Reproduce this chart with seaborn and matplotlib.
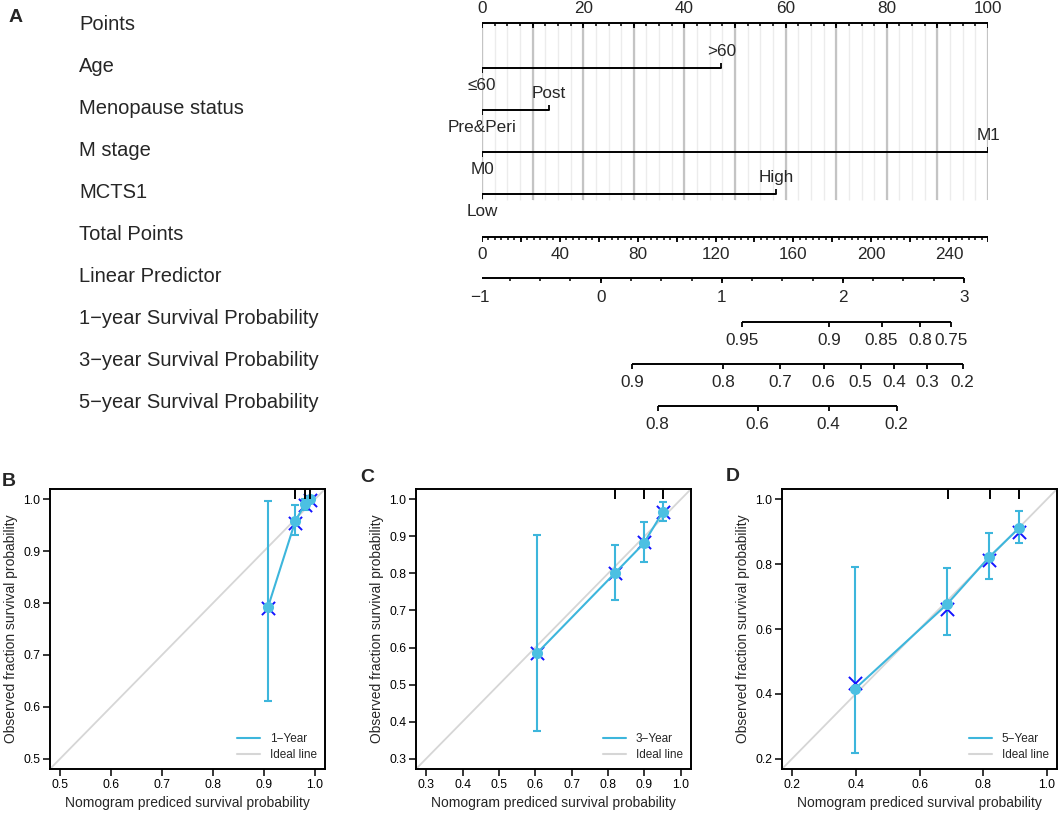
import numpy as np
import pandas as pd
import matplotlib
matplotlib.use("Agg")
import matplotlib.pyplot as plt
from matplotlib.lines import Line2D
from matplotlib.transforms import blended_transform_factory
import seaborn as sns

# ==============================
# DATI NOMOGRAMMA
# ==============================
row_names = ["Points", "Age", "Menopause status", "M stage", "MCTS1",
             "Total Points", "Linear Predictor",
             "1\u2212year Survival Probability",
             "3\u2212year Survival Probability",
             "5\u2212year Survival Probability"]

var_levels = [["\u226460", ">60"], ["Pre&Peri", "Post"], ["M0", "M1"], ["Low", "High"]]
var_points = [[0, 47.3], [0, 13.2], [0, 100], [0, 58.2]]

points_labels = [0, 20, 40, 60, 80, 100]
total_labels = [0, 40, 80, 120, 160, 200, 240]
total_max = 260
lp_labels = [-1, 0, 1, 2, 3]
lp_zero_points = 23.46     # posizione (in points) di LP = 0
points_per_lp = 23.93

haz1, haz3, haz5 = 0.01598, 0.0811, 0.1396   # rischio cumulativo di base
surv1_ticks = [0.95, 0.9, 0.85, 0.8, 0.75]
surv3_ticks = [0.9, 0.8, 0.7, 0.6, 0.5, 0.4, 0.3, 0.2]
surv5_ticks = [0.8, 0.6, 0.4, 0.2]

# ==============================
# DATI CALIBRAZIONE
# ==============================
pred1 = [0.908, 0.962, 0.981, 0.990]
obs1 = [0.792, 0.959, 0.991, 1.000]
lo1 = [0.612, 0.932, 0.980, 0.998]
hi1 = [0.997, 0.990, 1.000, 1.000]
corr1 = [0.790, 0.955, 0.990, 0.998]
rug1 = [0.962, 0.980, 0.990]

pred3 = [0.604, 0.818, 0.898, 0.951]
obs3 = [0.584, 0.800, 0.881, 0.967]
lo3 = [0.375, 0.728, 0.830, 0.941]
hi3 = [0.905, 0.878, 0.938, 0.993]
corr3 = [0.585, 0.800, 0.885, 0.965]
rug3 = [0.818, 0.898, 0.951]

pred5 = [0.397, 0.686, 0.818, 0.914]
obs5 = [0.415, 0.676, 0.821, 0.913]
lo5 = [0.217, 0.582, 0.753, 0.865]
hi5 = [0.792, 0.789, 0.897, 0.964]
corr5 = [0.434, 0.663, 0.813, 0.900]
rug5 = [0.691, 0.821, 0.914]

CYAN = "#3db6dc"
CYAN_PT = "#4cc0e2"
BLUE = "#1414ff"
GREY = "#d6d6d6"

W, H = 1059, 815


def rect(x0, y0, x1, y1):
    return [x0 / W, 1 - y1 / H, (x1 - x0) / W, (y1 - y0) / H]


sns.set_theme(style="ticks")
plt.rcParams['font.family'] = ['Liberation Sans', 'DejaVu Sans']

fig = plt.figure(figsize=(W / 100, H / 100), dpi=100)

# ==============================
# A. NOMOGRAMMA
# ==============================
ax = fig.add_axes(rect(482, 0, 988, 440))
ax.set_xlim(0, 100)
ax.set_ylim((440 - 25) / 42, -25 / 42)
ax.axis("off")

lab_tr = blended_transform_factory(fig.transFigure, ax.transData)
for i, name in enumerate(row_names):
    ax.text(79 / W, i, name, transform=lab_tr, ha="left", va="center", fontsize=14.5)

TICK_FS = 12.3
LONG, SHORT = 0.12, 0.07


def tp_to_points(tp):
    return np.asarray(tp, dtype=float) * 100 / total_max


def lp_to_points(lp):
    return lp_zero_points + points_per_lp * np.asarray(lp, dtype=float)


def surv_to_points(s, h):
    s = np.asarray(s, dtype=float)
    return lp_to_points(np.log(-np.log(s)) - np.log(h))


def scale(y, major_x, labels, minor_x=(), label_dy=0.46):
    xs = np.concatenate([np.asarray(major_x, float), np.asarray(minor_x, float)])
    ax.plot([xs.min(), xs.max()], [y, y], color="black", lw=1.4, solid_capstyle="butt")
    ax.vlines(major_x, y, y + LONG, color="black", lw=1.3)
    if len(minor_x):
        ax.vlines(minor_x, y, y + SHORT, color="black", lw=1.1)
    for x, t in zip(major_x, labels):
        ax.text(x, y + label_dy, t, ha="center", va="center", fontsize=TICK_FS)


# griglia verticale
grid_minor = np.arange(0, 100.1, 2.5)
grid_major = np.arange(0, 100.1, 10)
ax.vlines(grid_minor, -0.04, 4.17, color="#ececec", lw=1.0, zorder=0)
ax.vlines(grid_major, -0.04, 4.17, color="#c4c4c4", lw=1.6, zorder=0)

# Points
py = -0.04
ax.plot([0, 100], [py, py], color="black", lw=1.4)
ax.vlines(grid_minor, py, py + SHORT, color="black", lw=1.1)
ax.vlines(grid_major, py, py + LONG, color="black", lw=1.3)
for v in points_labels:
    ax.text(v, -0.4, str(v), ha="center", va="center", fontsize=TICK_FS)

# variabili categoriche
for i, (levels, pts) in enumerate(zip(var_levels, var_points)):
    y = i + 1 + 0.03
    ax.plot([pts[0], pts[1]], [y, y], color="black", lw=1.4)
    ax.vlines(pts[0], y, y + LONG, color="black", lw=1.3)
    ax.vlines(pts[1], y - LONG, y, color="black", lw=1.3)
    ax.text(pts[0], y + 0.4, levels[0], ha="center", va="center", fontsize=TICK_FS)
    ax.text(pts[1], y - 0.4, levels[1], ha="center", va="center", fontsize=TICK_FS)

# Total Points
tp_major = np.arange(0, total_max + 1, 20)
tp_minor = np.linspace(0, total_max, 79)
scale(5.05, tp_to_points(tp_major), [str(v) if v in total_labels else "" for v in tp_major],
      tp_to_points(tp_minor), label_dy=0.42)

# Linear Predictor
lp_minor = np.arange(-1, 3.01, 0.25)
scale(6.02, lp_to_points(lp_labels), [str(v).replace("-", "\u2212") for v in lp_labels],
      lp_to_points(lp_minor), label_dy=0.46)

# Sopravvivenza
scale(7.06, surv_to_points(surv1_ticks, haz1), [f"{v:g}" for v in surv1_ticks], label_dy=0.46)
scale(8.06, surv_to_points(surv3_ticks, haz3), [f"{v:g}" for v in surv3_ticks], label_dy=0.46)
scale(9.06, surv_to_points(surv5_ticks, haz5), [f"{v:g}" for v in surv5_ticks], label_dy=0.46)

fig.text(16 / W, 1 - 17 / H, "A", fontsize=14, fontweight="bold", ha="center", va="center")


# ==============================
# B-D. CALIBRAZIONE
# ==============================
def cal_panel(box, letter, letter_xy, pred, obs, lo, hi, corr, rug, lim, ticks, year):
    a = fig.add_axes(rect(*box))
    df = pd.DataFrame({"pred": pred, "obs": obs, "corr": corr})
    a.axline((0, 0), slope=1, color=GREY, lw=1.3, zorder=1)
    a.errorbar(pred, obs, yerr=[np.subtract(obs, lo), np.subtract(hi, obs)], fmt="none",
               ecolor=CYAN, elinewidth=1.5, capsize=2.6, capthick=1.5, zorder=2)
    sns.scatterplot(data=df, x="pred", y="corr", marker="x", s=90, color=BLUE,
                    linewidth=1.4, ax=a, zorder=3, legend=False)
    sns.lineplot(data=df, x="pred", y="obs", sort=False, color=CYAN, lw=1.5, marker="o",
                 markersize=8, markerfacecolor=CYAN_PT, markeredgewidth=0, ax=a, zorder=4)
    rug_tr = blended_transform_factory(a.transData, a.transAxes)
    a.vlines(rug, 0.963, 1.0, transform=rug_tr, color="black", lw=1.4, zorder=5)

    pad = (lim[1] - lim[0]) * 0.04
    a.set_xlim(lim[0] - pad, lim[1] + pad)
    a.set_ylim(lim[0] - pad, lim[1] + pad)
    a.set_xticks(ticks)
    a.set_yticks(ticks)
    a.set_xticklabels([f"{t:.1f}" for t in ticks])
    a.set_yticklabels([f"{t:.1f}" for t in ticks])
    a.tick_params(direction="out", length=5, width=1.1, colors="black", labelsize=8.8, pad=2)
    for s in a.spines.values():
        s.set_visible(True)
        s.set_color("black")
        s.set_linewidth(1.4)
    a.set_xlabel("Nomogram prediced survival probability", fontsize=10, labelpad=4)
    a.set_ylabel("Observed fraction survival probability", fontsize=10, labelpad=4)
    handles = [Line2D([], [], color=CYAN, lw=1.5), Line2D([], [], color=GREY, lw=1.5)]
    a.legend(handles, [f"{year}\u2212Year", "Ideal line"], loc="lower right", frameon=False,
             fontsize=8.5, handlelength=2.0, borderaxespad=0.3, labelspacing=0.3)
    fig.text(letter_xy[0] / W, 1 - letter_xy[1] / H, letter, fontsize=14, fontweight="bold",
             ha="center", va="center")


cal_panel((50, 489, 325, 769), "B", (9, 482), pred1, obs1, lo1, hi1, corr1, rug1,
          (0.5, 1.0), np.arange(0.5, 1.01, 0.1), 1)
cal_panel((416, 489, 691, 769), "C", (367, 478), pred3, obs3, lo3, hi3, corr3, rug3,
          (0.3, 1.0), np.arange(0.3, 1.01, 0.1), 3)
cal_panel((782, 489, 1057, 769), "D", (733, 477), pred5, obs5, lo5, hi5, corr5, rug5,
          (0.2, 1.0), np.arange(0.2, 1.01, 0.2), 5)

fig.savefig("out.png", dpi=100)
